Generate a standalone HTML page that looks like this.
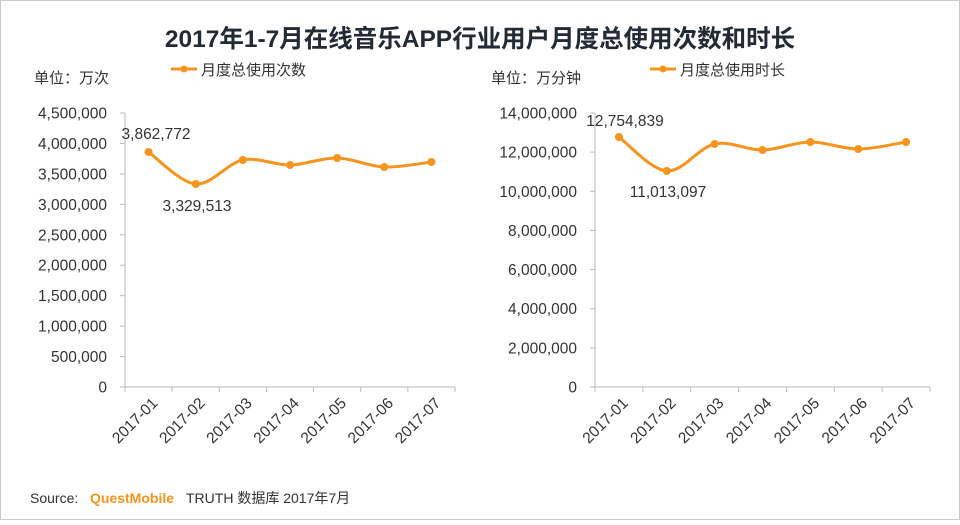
<!DOCTYPE html>
<html><head><meta charset="utf-8"><style>
body{margin:0;background:#fff}
svg text{font-family:"Liberation Sans","Noto Sans CJK SC",sans-serif;fill:#333}
</style></head><body>
<svg id="s" width="960" height="520" xmlns="http://www.w3.org/2000/svg">
<rect x="0.5" y="0.5" width="959" height="519" fill="#fff" stroke="#c8c8c8"/>
<text x="480" y="47" text-anchor="middle" font-size="24.5" font-weight="bold" style="fill:#222a35">2017年1-7月在线音乐APP行业用户月度总使用次数和时长</text>
<text x="34" y="83" font-size="15">单位：万次</text>
<text x="491" y="83" font-size="15">单位：万分钟</text>
<line x1="171" y1="69" x2="197" y2="69" stroke="#f7941d" stroke-width="3"/><circle cx="184" cy="69" r="3.5" fill="#f7941d"/>
<text x="201" y="75" font-size="15">月度总使用次数</text>
<line x1="650" y1="69" x2="676" y2="69" stroke="#f7941d" stroke-width="3"/><circle cx="663" cy="69" r="3.5" fill="#f7941d"/>
<text x="680" y="75" font-size="15">月度总使用时长</text>
<g id="g"></g>
<text x="30" y="503" font-size="14">Source:</text>
<text x="90" y="503" font-size="14" font-weight="bold" style="fill:#f7941d">QuestMobile</text>
<text x="186" y="503" font-size="14">TRUTH 数据库 2017年7月</text>
</svg>
<script>
const g=document.getElementById('g');let h='';
function chart(ax,x1,top,bot,n,labels,ys,ann){
  h+=`<line x1="${ax}" y1="${top}" x2="${ax}" y2="${bot}" stroke="#bbb"/>`;
  h+=`<line x1="${ax}" y1="${bot}" x2="${x1}" y2="${bot}" stroke="#bbb"/>`;
  for(let i=0;i<labels.length;i++){const y=bot-(bot-top)*i/(labels.length-1);
    h+=`<line x1="${ax-5}" y1="${y}" x2="${ax}" y2="${y}" stroke="#bbb"/>`;
    h+=`<text x="${ax-18}" y="${y+5.5}" font-size="15.5" text-anchor="end">${labels[i]}</text>`;}
  const w=(x1-ax)/7;const pts=[];
  for(let i=0;i<=7;i++){const x=ax+w*i;h+=`<line x1="${x}" y1="${bot}" x2="${x}" y2="${bot+5}" stroke="#bbb"/>`;}
  for(let i=0;i<7;i++){const x=ax+w*(i+.5);pts.push([x,ys[i]]);
    h+=`<text transform="translate(${x+10},${bot+17}) rotate(-45)" font-size="15.5" text-anchor="end">2017-0${i+1}</text>`;}
  let d=`M${pts[0][0]},${pts[0][1]}`;
  for(let i=0;i<6;i++){const p0=pts[Math.max(i-1,0)],p1=pts[i],p2=pts[i+1],p3=pts[Math.min(i+2,6)];
    d+=` C${p1[0]+(p2[0]-p0[0])/6},${p1[1]+(p2[1]-p0[1])/6} ${p2[0]-(p3[0]-p1[0])/6},${p2[1]-(p3[1]-p1[1])/6} ${p2[0]},${p2[1]}`;}
  h+=`<path d="${d}" fill="none" stroke="#f7941d" stroke-width="3"/>`;
  pts.forEach(p=>h+=`<circle cx="${p[0]}" cy="${p[1]}" r="4" fill="#f7941d"/>`);
  ann.forEach(a=>h+=`<text x="${a[0]}" y="${a[1]}" font-size="15.5" text-anchor="middle">${a[2]}</text>`);
}
chart(125,455,113,387,7,['0','500,000','1,000,000','1,500,000','2,000,000','2,500,000','3,000,000','3,500,000','4,000,000','4,500,000'],[152,184,160,165,158,167,162],[[156,139,'3,862,772'],[197,211,'3,329,513']]);
chart(595,930,113,387,7,['0','2,000,000','4,000,000','6,000,000','8,000,000','10,000,000','12,000,000','14,000,000'],[137,171,144,150,142,149,142],[[625,126,'12,754,839'],[668,197,'11,013,097']]);
g.innerHTML=h;
</script>
</body></html>
